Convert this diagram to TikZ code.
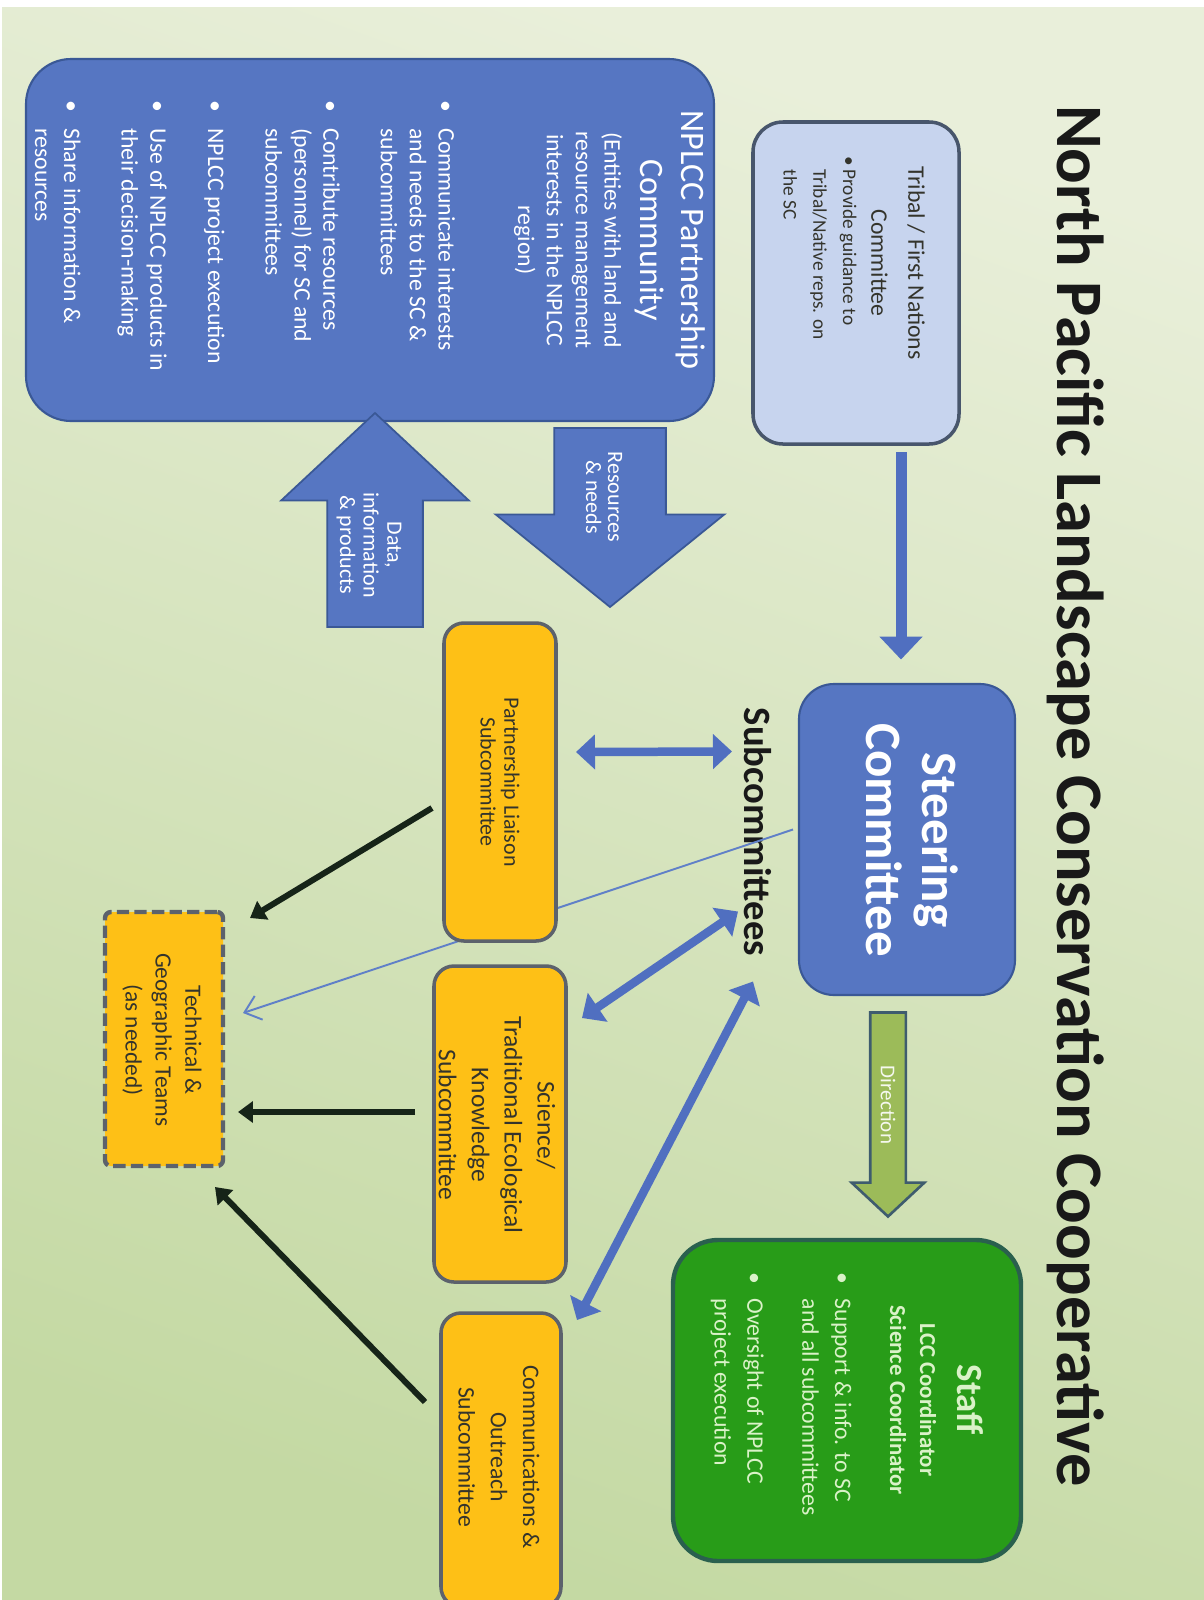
\documentclass[tikz,border=0pt]{standalone}
\usepackage{fontspec}
\setmainfont{Carlito}
\usetikzlibrary{shapes,arrows.meta,positioning,backgrounds,calc}
\definecolor{bgtop}{RGB}{233,239,218}
\definecolor{bgbot}{RGB}{196,217,163}
\definecolor{boxblue}{RGB}{86,118,194}
\definecolor{lineblue}{RGB}{58,88,150}
\definecolor{tribfill}{RGB}{199,212,238}
\definecolor{tribline}{RGB}{72,86,108}
\definecolor{subyellow}{RGB}{254,192,22}
\definecolor{subline}{RGB}{92,98,108}
\definecolor{stafffill}{RGB}{40,156,24}
\definecolor{staffline}{RGB}{42,96,78}
\definecolor{stafftext}{RGB}{218,242,200}
\definecolor{dirgreen}{RGB}{156,187,89}
\definecolor{dirline}{RGB}{62,92,110}
\definecolor{arrowblue}{RGB}{80,111,192}
\definecolor{arrowdark}{RGB}{22,36,24}
\definecolor{thinblue}{RGB}{96,128,200}
\definecolor{darktext}{RGB}{52,52,44}
\newcommand{\bitem}[1][16pt]{\makebox[#1][l]{\textbullet}}
\newcommand{\bcont}[1][16pt]{\hspace*{#1}}
\newcommand{\orgbox}[6]{
  \node[#1, minimum width={(#5-#3)*0.02cm}, minimum height={(#6-#4)*0.02cm}] (#2) at ({(#3+#5)/2},{(#4+#6)/2}) {};
}
\newcommand{\medge}[5][]{
  \coordinate (tail) at ($#2+#4$);
  \coordinate (tip) at ($#3+#5$);
  \begin{scope}[on background layer]
    \draw [#1] (tail) -- (tip);
  \end{scope}
}
\newcommand{\mblock}[6][]{
  \coordinate (tail) at ($#3+#5$);
  \coordinate (tip) at ($#4+#6$);
  \path let \p1=(tail), \p2=(tip), \n1={veclen(\x2-\x1,\y2-\y1)}, \n2={atan2(\y2-\y1,\x2-\x1)}
    in node[blockarrow, #1, rotate=\n2, minimum height=\n1, anchor=tail] (#2) at (tail) {};
}

\begin{document}
\begin{tikzpicture}[x=0.02cm,y=-0.02cm,
  wtxt/.style={rotate=-90,inner sep=0pt,text=white},
  dtxt/.style={rotate=-90,inner sep=0pt,text=darktext},
  stxt/.style={rotate=-90,inner sep=0pt,text=stafftext},
  bluebox/.style={draw=lineblue,fill=boxblue,line width=1.2pt,inner sep=0pt},
  tribbox/.style={draw=tribline,fill=tribfill,line width=2pt,rounded corners=0.6cm,inner sep=0pt},
  subbox/.style={draw=subline,fill=subyellow,line width=2pt,rounded corners=0.4cm,inner sep=0pt},
  techbox/.style={draw=subline,fill=subyellow,line width=2.5pt,dash pattern=on 7pt off 3pt,rounded corners=0.12cm,inner sep=0pt},
  staffbox/.style={draw=staffline,fill=stafffill,line width=2.5pt,rounded corners=0.9cm,inner sep=0pt},
  blockarrow/.style={single arrow,draw=lineblue,fill=boxblue,line width=1pt,inner xsep=0pt,outer sep=0pt},
  greenarrow/.style={draw=dirline,fill=dirgreen,line width=1.5pt},
  bluearrow/.style={draw=arrowblue,line width=0.22cm,-{Triangle[length=0.46cm,width=0.84cm]}},
  dblarrow/.style={draw=arrowblue,line width=0.17cm,{Triangle[length=0.38cm,width=0.68cm]}-{Triangle[length=0.38cm,width=0.68cm]}},
  thinarrow/.style={draw=thinblue,line width=1.1pt,-{Straight Barb[length=0.3cm,width=0.5cm]}},
  blackarrow/.style={draw=arrowdark,line width=0.12cm,-{Triangle[length=0.3cm,width=0.42cm]}}]
  \useasboundingbox (0,0) rectangle (1204,1600);
  \begin{scope}[on background layer]
    \fill[white] (0,0) rectangle (1204,1600);
    \shade[top color=bgtop,bottom color=bgbot,shading angle=-20] (2,7) rectangle (1204,1600);
    \node[rotate=-90,inner sep=0pt,text=black!90,font=\fontsize{22}{26}\selectfont\bfseries] (subs) at (758,832) {Subcommittees};
  \end{scope}

  \node[rotate=-90,inner sep=0pt,text=black!90,font=\fontsize{37.8}{44}\selectfont\bfseries] (title) at (1076,796) {North Pacific Landscape Conservation Cooperative};

  \orgbox{bluebox,rounded corners=0.9cm}{nplcc}{26}{59}{714}{421}
  \orgbox{tribbox}{tribal}{753}{122}{959}{444}
  \orgbox{bluebox,rounded corners=0.7cm}{steer}{799}{684}{1015}{995}
  \orgbox{subbox}{psub}{444}{623}{556}{941}
  \orgbox{subbox}{ssub}{434}{966}{566}{1282}
  \orgbox{subbox}{csub}{441}{1313}{561}{1607}
  \orgbox{techbox}{tech}{105}{912}{223}{1166}
  \orgbox{staffbox}{staff}{673}{1240}{1021}{1561}

  \node[wtxt,align=center,font=\fontsize{19.5}{23}\selectfont] (nplcchead) at (670,240) {NPLCC Partnership\\Community};
  \node[wtxt,align=center,font=\fontsize{13.5}{16.4}\selectfont] (nplccsub) at (568,240) {(Entities with land and\\resource management\\interests in the NPLCC\\region)};
  \node[wtxt,anchor=west,align=left,font=\fontsize{13.5}{16.4}\selectfont] (nplccitems) at (245,100) {\bitem Communicate interests\\ \bcont and needs to the SC \&\\ \bcont subcommittees\\[16.4pt] \bitem Contribute resources\\ \bcont (personnel) for SC and\\ \bcont subcommittees\\[16.4pt] \bitem NPLCC project execution\\[16.4pt] \bitem Use of NPLCC products in\\ \bcont their decision-making\\[16.4pt] \bitem Share information \&\\ \bcont resources};

  \node[dtxt,align=center,font=\fontsize{13.5}{21}\selectfont] (tribhead) at (898,263) {Tribal / First Nations\\Committee};
  \node[dtxt,anchor=west,align=left,font=\fontsize{11}{17}\selectfont] (tribitem) at (820,156) {\bitem[7.5pt]Provide guidance to\\\bcont[7.5pt]Tribal/Native reps. on\\\bcont[7.5pt]the SC};

  \node[wtxt,align=center,font=\fontsize{29}{32}\selectfont\bfseries] (steertext) at (912,840) {Steering\\Committee};

  \node[dtxt,align=center,font=\fontsize{12.5}{13.5}\selectfont] (psubtext) at (500,782) {Partnership Liaison\\Subcommittee};
  \node[dtxt,align=center,font=\fontsize{14.5}{18.7}\selectfont] (ssubtext) at (497,1125) {Science/\\Traditional Ecological\\Knowledge\\Subcommittee};
  \node[dtxt,align=center,font=\fontsize{13.5}{18.4}\selectfont] (csubtext) at (499,1457) {Communications \&\\Outreach\\Subcommittee};
  \node[dtxt,align=center,font=\fontsize{13.3}{17}\selectfont] (techtext) at (162,1040) {Technical \&\\Geographic Teams\\(as needed)};

  \node[stxt,font=\fontsize{21}{24}\selectfont\bfseries] (stafftitle) at (970,1400) {Staff};
  \node[stxt,align=center,font=\fontsize{13}{17}\selectfont\bfseries] (staffnames) at (913,1400) {LCC Coordinator\\Science Coordinator};
  \node[stxt,anchor=west,align=left,font=\fontsize{13.5}{18.7}\selectfont] (staffitems) at (781,1272) {\bitem[15pt]Support \& info. to SC\\ \bcont[15pt]and all subcommittees\\[12.5pt] \bitem[15pt]Oversight of NPLCC\\ \bcont[15pt]project execution};

  % block arrows
  \mblock[inner ysep=1.1cm,single arrow head extend=1.17cm,single arrow tip angle=102]{resarrow}{(nplcc)}{(psub)}{(240,188)}{(110,-175)}
  \mblock[inner ysep=0.94cm,single arrow head extend=0.92cm,single arrow tip angle=94]{dataarrow}{(psub)}{(nplcc)}{(-125,-155)}{(5,173)}
  \mblock[greenarrow,inner ysep=0.33cm,single arrow head extend=0.37cm,single arrow tip angle=94]{direct}{(steer)}{(staff)}{(-19,173)}{(41,-184)}
  \node[wtxt,align=center,font=\fontsize{12.5}{12.5}\selectfont] (restext) at (604,497) {Resources\\\& needs};
  \node[wtxt,align=center,font=\fontsize{12.5}{13.5}\selectfont] (datatext) at (369,545) {Data,\\information\\\& products};
  \node[wtxt,text=white!90!dirgreen,font=\fontsize{12}{14}\selectfont] (dirtext) at (888,1105) {Direction};

  \medge[bluearrow]{(tribal)}{(steer)}{(45,169)}{(-6,-180)}
  \medge[dblarrow]{(steer)}{(psub)}{(-175,-88)}{(76,-30)}
  \medge[dblarrow]{(steer)}{(ssub)}{(-169,72)}{(82,-106)}
  \medge[dblarrow]{(steer)}{(csub)}{(-154,142)}{(76,-140)}
  \medge[thinarrow]{(steer)}{(tech)}{(-114,-10)}{(79,-26)}
  \medge[blackarrow]{(psub)}{(tech)}{(-68,26)}{(86,-121)}
  \medge[blackarrow]{(ssub)}{(tech)}{(-85,-12)}{(74,73)}
  \medge[blackarrow]{(csub)}{(tech)}{(-76,-58)}{(51,148)}
\end{tikzpicture}
\end{document}
